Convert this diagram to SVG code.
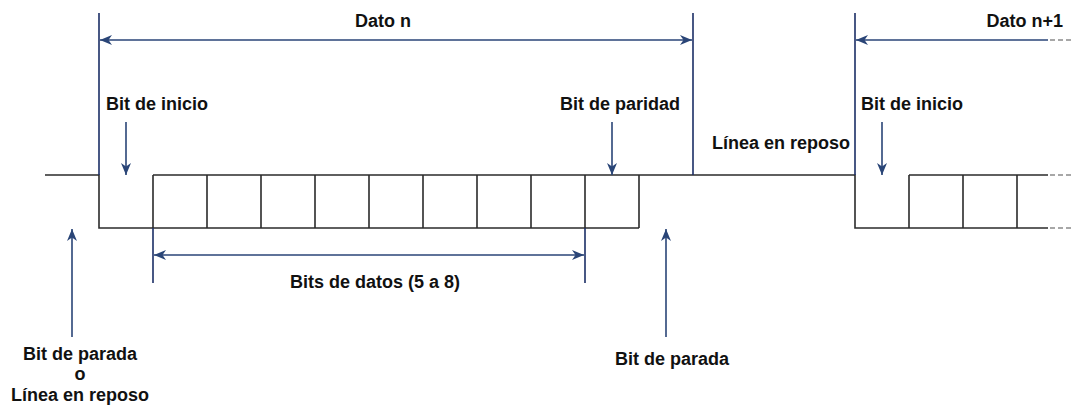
<svg xmlns="http://www.w3.org/2000/svg" width="1073" height="405" viewBox="0 0 1073 405">
  <style>
    .lbl { font-family: "Liberation Sans", Arial, sans-serif; font-weight: bold; font-size: 18px; fill: #111; }
    .wave { fill: none; stroke: #2b2b2b; stroke-width: 1.6; }
    .dash { fill: none; stroke: #8a8a8a; stroke-width: 1.6; stroke-dasharray: 5 3; }
    .guide { fill: none; stroke: #1c2f66; stroke-width: 1.6; }
    .arr { fill: none; stroke: #2a4577; stroke-width: 1.6; }
    .arr-end { marker-end: url(#head); }
    .arr-both { marker-start: url(#head); marker-end: url(#head); }
  </style>
  <defs>
    <!-- notched arrowhead shared by all pointers and span arrows -->
    <marker id="head" markerUnits="userSpaceOnUse" markerWidth="13" markerHeight="11" refX="12" refY="5.5" orient="auto-start-reverse">
      <path d="M0,0.5 L12,5.5 L0,10.5 L3.5,5.5 Z" fill="#2a4577"/>
    </marker>
  </defs>
  <rect width="1073" height="405" fill="#fff"/>

  <!-- signal line: idle, start bit, data/parity cells, idle, next frame -->
  <g id="waveform">
    <path class="wave" d="M45,175 H99 V228 H639 M153,175 H855 V228 H1048 M909,175 H1048"/>
    <path class="wave" d="M153,175 V228 M207,175 V228 M261,175 V228 M315,175 V228 M369,175 V228 M423,175 V228 M477,175 V228 M531,175 V228 M585,175 V228 M639,175 V228 M909,175 V228 M963,175 V228 M1017,175 V228"/>
    <path class="dash" d="M1050,175 H1073 M1050,228 H1073"/>
  </g>

  <!-- frame boundaries -->
  <g id="boundaries">
    <path class="guide" d="M99,13 V175 M693,13 V175 M855,13 V175 M153,228 V283 M585,228 V283"/>
  </g>

  <g id="connectors">
    <line class="arr arr-both" x1="100" y1="40" x2="692" y2="40"/>
    <path class="arr" marker-start="url(#head)" d="M856,40 H1048"/>
    <path class="dash" d="M1050,40 H1073"/>
    <line class="arr arr-both" x1="154" y1="255" x2="584" y2="255"/>
    <line class="arr arr-end" x1="126" y1="122" x2="126" y2="175"/>
    <line class="arr arr-end" x1="612" y1="122" x2="612" y2="175"/>
    <line class="arr arr-end" x1="882" y1="122" x2="882" y2="175"/>
    <line class="arr arr-end" x1="72" y1="337" x2="72" y2="229"/>
    <line class="arr arr-end" x1="666" y1="337" x2="666" y2="229"/>
  </g>

  <g id="dato-n"><text class="lbl" x="383" y="27" text-anchor="middle">Dato n</text></g>
  <g id="dato-n1"><text class="lbl" x="1063" y="27" text-anchor="end">Dato n+1</text></g>
  <g id="inicio-1"><text class="lbl" x="106" y="110">Bit de inicio</text></g>
  <g id="paridad"><text class="lbl" x="560" y="110">Bit de paridad</text></g>
  <g id="inicio-2"><text class="lbl" x="861" y="110">Bit de inicio</text></g>
  <g id="reposo"><text class="lbl" x="712" y="149">Línea en reposo</text></g>
  <g id="datos"><text class="lbl" x="375" y="288" text-anchor="middle">Bits de datos (5 a 8)</text></g>
  <g id="parada-1">
    <text class="lbl" x="80" y="360" text-anchor="middle">Bit de parada</text>
    <text class="lbl" x="80" y="380" text-anchor="middle">o</text>
    <text class="lbl" x="80" y="401" text-anchor="middle">Línea en reposo</text>
  </g>
  <g id="parada-2"><text class="lbl" x="615" y="365">Bit de parada</text></g>
</svg>
